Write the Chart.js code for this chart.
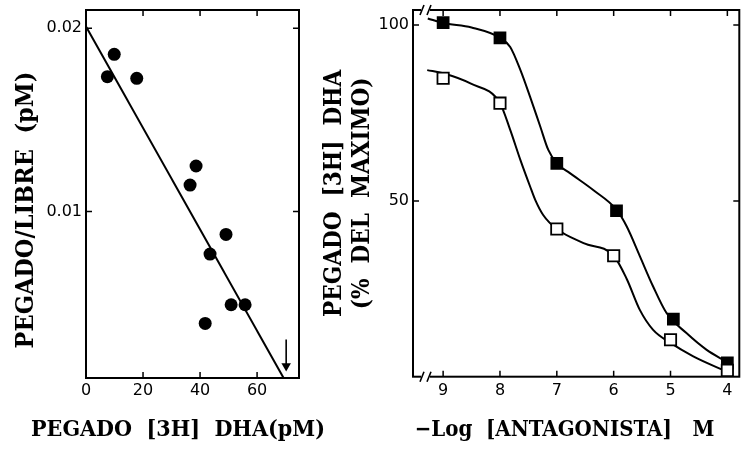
<!DOCTYPE html>
<html><head><meta charset="utf-8">
<script src="https://cdn.jsdelivr.net/npm/chart.js@4.4.1/dist/chart.umd.min.js"></script>
<style>
html,body{margin:0;padding:0;background:#fff;width:741px;height:452px;overflow:hidden;position:relative;}
#w1{position:absolute;left:0;top:-32px;width:356px;height:484px;}
#w2{position:absolute;left:320px;top:0;width:489px;height:452px;}
</style></head><body>
<div id="w1"><canvas id="c1" width="356" height="484"></canvas></div>
<div id="w2"><canvas id="c2" width="489" height="452"></canvas></div>
<script>
// ---- Left panel (Scatchard plot) ----
const bindX = [7.5, 9.9, 17.8, 36.5, 38.6, 43.5, 49.1, 41.8, 50.9, 55.8];
const bindRatio = [0.01736, 0.01858, 0.01727, 0.01144, 0.01248, 0.00767, 0.00874, 0.00388, 0.00490, 0.00490];
const fitX = [0, 69.3];
const fitY = [0.0201, 0.0009];
const arrowX = [70.2, 70.2];
const arrowY = [0.0030, 0.0016];
const arrowHeadY = [0.00155];
const leftXTicks = [0, 20, 40, 60];
const leftYTicks = [0.01, 0.02];
const leftYTickLabels = ['0.01', '0.02'];

// ---- Right panel (competition curves) ----
const filledX = [9, 8, 7, 5.95, 4.95, 4];
const filledY = [100.7, 96.4, 60.7, 47.2, 16.4, 3.9];
const openX = [9, 8, 7, 6, 5, 4];
const openY = [84.9, 77.8, 42.0, 34.4, 10.5, 1.8];
const filledCurveX = [9.27, 9, 8.5, 8, 7.82, 7.64, 7.47, 7.29, 7.15, 7, 6.77, 6.36, 5.95, 5.77, 5.54, 5.31, 5.07, 4.72, 4.37, 4.02];
const filledCurveY = [101.9, 100.6, 99.3, 96.4, 93.8, 87.2, 79.6, 71.1, 64.5, 60.7, 57.9, 53.1, 47.5, 42.7, 34.3, 25.8, 18.1, 12.4, 7.7, 4.3];
const openCurveX = [9.28, 9, 8.52, 8, 7.82, 7.64, 7.47, 7.38, 7.24, 7, 6.53, 6, 5.77, 5.54, 5.31, 5, 4.6, 4.02];
const openCurveY = [87.2, 86.3, 83.4, 77.8, 70.2, 61.6, 54.1, 50.3, 46.0, 42.0, 38.0, 34.4, 27.8, 19.0, 13.4, 9.6, 5.8, 1.5];
const rightXTicks = [9, 8, 7, 6, 5, 4];
const rightYTicks = [50, 100];

const TITLE_FONT = '"DejaVu Serif Condensed", "DejaVu Serif", serif';
const TICK_FONT = '"DejaVu Sans", sans-serif';

Chart.defaults.color = '#000';
Chart.defaults.font.family = TICK_FONT;
Chart.defaults.animation = false;

const pts = (xs, ys) => xs.map((x, i) => ({x: x, y: ys[i]}));
const noPad = s => { s.paddingTop = 0; s.paddingBottom = 0; s.paddingLeft = 0; s.paddingRight = 0; };
const spacer = (pos, size) => ({
  type: 'linear', position: pos, display: true,
  grid: {display: false, drawTicks: false}, border: {display: false},
  ticks: {display: false},
  afterFit: s => { noPad(s); if (pos === 'top' || pos === 'bottom') s.height = size; else s.width = size; }
});

function framePlugin(withBreaks) {
  return {
    id: 'frameTicks',
    beforeDatasetsDraw(chart) {
      const {ctx, chartArea: a, scales} = chart;
      ctx.save();
      ctx.strokeStyle = '#000';
      ctx.lineWidth = 2;
      ctx.strokeRect(a.left, a.top, a.right - a.left, a.bottom - a.top);
      ctx.lineWidth = 1.5;
      const L = 6;
      ctx.beginPath();
      scales.x.ticks.forEach(t => {
        const p = scales.x.getPixelForValue(t.value);
        if (p <= a.left + 1 || p >= a.right - 1) return;
        ctx.moveTo(p, a.top); ctx.lineTo(p, a.top + L);
        ctx.moveTo(p, a.bottom); ctx.lineTo(p, a.bottom - L);
      });
      scales.y.ticks.forEach(t => {
        const p = scales.y.getPixelForValue(t.value);
        ctx.moveTo(a.left, p); ctx.lineTo(a.left + L, p);
        ctx.moveTo(a.right, p); ctx.lineTo(a.right - L, p);
      });
      ctx.stroke();
      if (withBreaks) {
        [a.top, a.bottom].forEach(yy => {
          const x0 = a.left + 8;
          ctx.fillStyle = '#fff';
          ctx.fillRect(x0, yy - 3, 9, 6);
          ctx.beginPath();
          ctx.lineWidth = 1.6;
          ctx.moveTo(x0 - 1, yy + 5); ctx.lineTo(x0 + 3, yy - 5);
          ctx.moveTo(x0 + 6, yy + 5); ctx.lineTo(x0 + 10, yy - 5);
          ctx.stroke();
        });
      }
      ctx.restore();
    }
  };
}

new Chart(document.getElementById('c1'), {
  type: 'scatter',
  data: {
    datasets: [
      {data: pts(bindX, bindRatio), pointStyle: 'circle', pointRadius: 6.5, pointHoverRadius: 6.5,
       backgroundColor: '#000', borderColor: '#000', borderWidth: 0, showLine: false},
      {data: pts(fitX, fitY), showLine: true, pointRadius: 0, borderColor: '#000', borderWidth: 2},
      {data: pts(arrowX, arrowY), showLine: true, pointRadius: 0, borderColor: '#000', borderWidth: 1.6},
      {data: pts([arrowX[0]], arrowHeadY), pointStyle: 'triangle', rotation: 180, pointRadius: 5.5,
       backgroundColor: '#000', borderColor: '#000', borderWidth: 0, showLine: false}
    ]
  },
  options: {
    responsive: false,
    animation: false,
    layout: {padding: 0},
    plugins: {
      legend: {display: false},
      tooltip: {enabled: false},
      title: {display: true, position: 'bottom', text: 'PEGADO  [3H]  DHA(pM)', color: '#000',
              font: {family: TITLE_FONT, size: 23, weight: 'bold', lineHeight: 1.2},
              padding: {top: 0, bottom: 8}},
      subtitle: {display: true, position: 'left', text: 'PEGADO/LIBRE  (pM)', color: '#000',
              font: {family: TITLE_FONT, size: 25, weight: 'bold', lineHeight: 1.0},
              padding: {top: 14, bottom: 0}}
    },
    scales: {
      x: {type: 'linear', min: 0, max: 74.7,
          grid: {display: false, drawTicks: false}, border: {display: false},
          afterBuildTicks: s => { s.ticks = leftXTicks.map(v => ({value: v})); },
          afterFit: s => { noPad(s); s.height = 38.4; },
          ticks: {padding: 3, font: {size: 16}, color: '#000', callback: v => String(v)}},
      y: {type: 'linear', min: 0.0009, max: 0.0210,
          grid: {display: false, drawTicks: false}, border: {display: false},
          afterBuildTicks: s => { s.ticks = leftYTicks.map(v => ({value: v})); },
          afterFit: s => { noPad(s); s.width = 47; },
          ticks: {padding: 4, font: {size: 16}, color: '#000', callback: (v, i) => leftYTickLabels[i]}},
      yR: spacer('right', 57),
      xT: spacer('top', 42)
    }
  },
  plugins: [framePlugin(false)]
});

new Chart(document.getElementById('c2'), {
  type: 'scatter',
  data: {
    datasets: [
      {data: pts(openX, openY), pointStyle: 'rect', pointRadius: 8, pointHoverRadius: 8,
       backgroundColor: '#fff', borderColor: '#000', borderWidth: 1.8, showLine: false},
      {data: pts(filledX, filledY), pointStyle: 'rect', pointRadius: 9, pointHoverRadius: 9,
       backgroundColor: '#000', borderColor: '#000', borderWidth: 0, showLine: false},
      {data: pts(filledCurveX, filledCurveY), showLine: true, pointRadius: 0, borderColor: '#000',
       borderWidth: 2, tension: 0.4, cubicInterpolationMode: 'monotone'},
      {data: pts(openCurveX, openCurveY), showLine: true, pointRadius: 0, borderColor: '#000',
       borderWidth: 2, tension: 0.4, cubicInterpolationMode: 'monotone'}
    ]
  },
  options: {
    responsive: false,
    animation: false,
    layout: {padding: {top: 10, right: 0, left: 0, bottom: 0}},
    plugins: {
      legend: {display: false},
      tooltip: {enabled: false},
      title: {display: true, position: 'bottom', text: '\u2212Log  [ANTAGONISTA]   M', color: '#000',
              font: {family: TITLE_FONT, size: 22, weight: 'bold', lineHeight: 1.25},
              padding: {top: 0, bottom: 8}}
    },
    scales: {
      x: {type: 'linear', min: 3.79, max: 9.53, reverse: true,
          grid: {display: false, drawTicks: false}, border: {display: false},
          afterBuildTicks: s => { s.ticks = rightXTicks.map(v => ({value: v})); },
          afterFit: s => { noPad(s); s.height = 39.8; },
          ticks: {padding: 5, font: {size: 16}, color: '#000', callback: v => String(v)}},
      y: {type: 'linear', min: 0, max: 104.3,
          grid: {display: false, drawTicks: false}, border: {display: false},
          afterBuildTicks: s => { s.ticks = rightYTicks.map(v => ({value: v})); },
          afterFit: s => { noPad(s); s.width = 93; },
          ticks: {padding: 4, font: {size: 16}, color: '#000', callback: v => String(v)},
          title: {display: true, text: ['PEGADO  [3H]  DHA', '(%  DEL  MAXIMO)'], color: '#000',
                  font: {family: TITLE_FONT, size: 24, weight: 'bold', lineHeight: 1.17},
                  padding: {top: 1, bottom: 0}}},
      yR: spacer('right', 69.7)
    }
  },
  plugins: [framePlugin(true)]
});
</script>
</body></html>
